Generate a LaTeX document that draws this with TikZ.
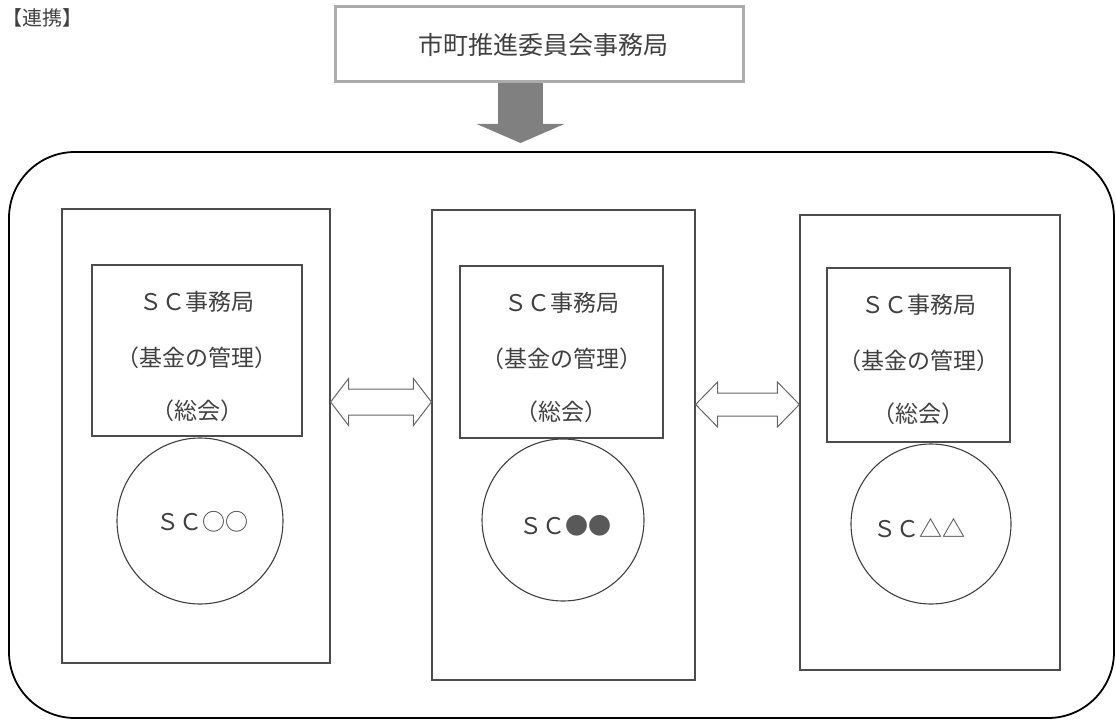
\documentclass[tikz,border=0pt]{standalone}
\usepackage{fontspec}
\newfontfamily\jp{Noto Sans CJK JP}
\usetikzlibrary{arrows.meta,calc}
\tikzset{
  txt/.style={font=\jp\fontsize{23}{27}\selectfont, text=black!75, inner sep=0pt},
  toptxt/.style={font=\jp\fontsize{25}{29}\selectfont, text=black!75, inner sep=0pt},
  lbltxt/.style={font=\jp\fontsize{20}{23}\selectfont, text=black!75, inner sep=0pt},
  topbox/.style={draw=gray!65, line width=3pt, minimum width=408pt, minimum height=75pt, inner sep=0pt},
  frame/.style={draw=black, line width=1.8pt, rounded corners=66pt, inner sep=0pt},
  scbox/.style={draw=black!70, line width=1.2pt, inner sep=0pt},
  scin/.style={draw=black!70, line width=1.2pt, inner sep=0pt},
  sccircle/.style={circle, draw=black!75, line width=1.1pt, inner sep=0pt},
  dblarrow/.style={draw=black!60, line width=1pt, fill=white, line join=miter},
  downarrow/.style={draw=black!50, line width=45pt, -{Triangle[width=87pt,length=19pt]}}
}
\begin{document}
\begin{tikzpicture}[x=1pt,y=-1pt]
\useasboundingbox (0,0) rectangle (1116,722);
% label
\node[lbltxt] (lbl) at (42,18) {【連携】};
% top box
\node[topbox] (top) at (539,44) {};
\node[toptxt] (toptext) at (543,45) {市町推進委員会事務局};
% outer frame
\node[frame, minimum width=1105pt, minimum height=566pt] (frame) at (561.5,435) {};
% down arrow
\coordinate (dtip) at (520.5,143);
\draw[downarrow] ($(top.south)+(-18.5,0)$) -- (dtip);
% tall boxes
\node[scbox, minimum width=268pt, minimum height=454pt] (b1) at (196,436) {};
\node[scbox, minimum width=263pt, minimum height=470pt] (b2) at (563.5,445) {};
\node[scbox, minimum width=260pt, minimum height=455pt] (b3) at (930,442.5) {};
% inner boxes
\node[scin, minimum width=210pt, minimum height=171pt] (i1) at (197,350.5) {};
\node[scin, minimum width=203pt, minimum height=172pt] (i2) at (561.5,352) {};
\node[scin, minimum width=183pt, minimum height=174pt] (i3) at (918.5,355) {};
% inner texts
\foreach \i in {1,2,3}{
  \node[txt] (t\i a) at ($(i\i.north)+(0,37)$) {ＳＣ事務局};
  \node[txt] (t\i b) at ($(i\i.north)+(0,93)$) {（基金の管理）};
  \node[txt] (t\i c) at ($(i\i.north)+(0,146)$) {（総会）};
}
% circles
\node[sccircle, minimum size=166pt] (c1) at (200,521) {};
\node[sccircle, minimum size=162pt] (c2) at (563,520) {};
\node[sccircle, minimum size=160pt] (c3) at (931,524) {};
\node[txt] (c1t) at (202,522) {ＳＣ○○};
\node[txt] (c2t) at (565,526) {ＳＣ{\color{black!65}●●}};
\node[txt] (c3t) at (919,528) {ＳＣ△△};
% double arrows
\coordinate (ya) at (0,402);
\coordinate (yb) at (0,404.5);
\coordinate (a1L) at (b1.east |- ya);
\coordinate (a1R) at (b2.west |- ya);
\coordinate (a2L) at (b2.east |- yb);
\coordinate (a2R) at (b3.west |- yb);
\draw[dblarrow] (a1L) -- ++(18,-23.5) -- ++(0,10.5) -- ($(a1R)+(-18,-13)$) -- ++(0,-10.5) -- (a1R)
  -- ++(-18,23.5) -- ++(0,-10.5) -- ($(a1L)+(18,13)$) -- ++(0,10.5) -- cycle;
\draw[dblarrow] (a2L) -- ++(22,-22.5) -- ++(0,11) -- ($(a2R)+(-22,-11.5)$) -- ++(0,-11) -- (a2R)
  -- ++(-22,22.5) -- ++(0,-11) -- ($(a2L)+(22,11.5)$) -- ++(0,11) -- cycle;
\end{tikzpicture}
\end{document}
